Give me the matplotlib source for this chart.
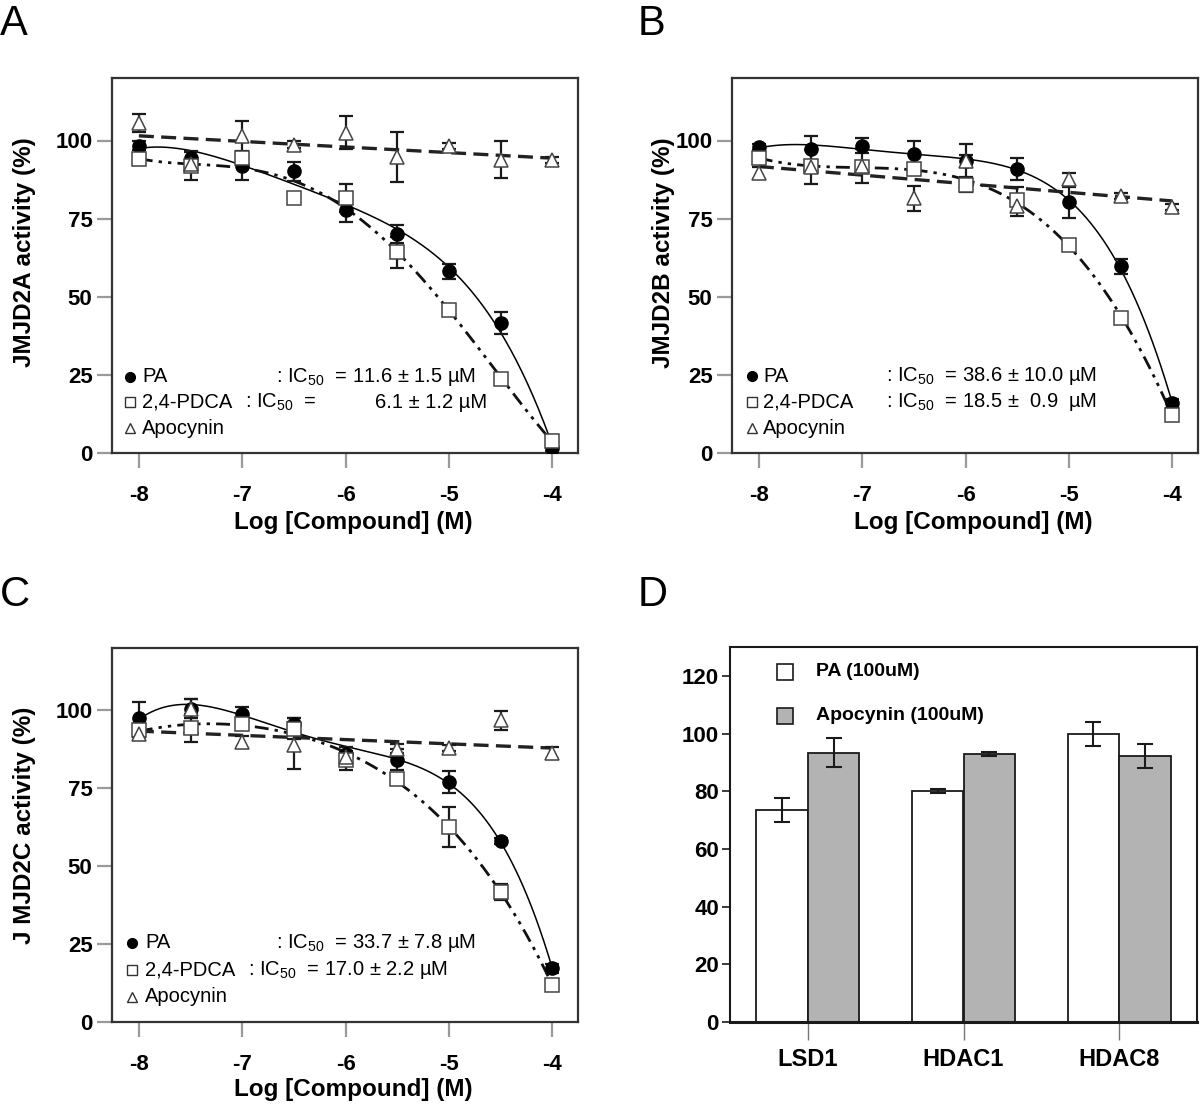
import numpy as np
import matplotlib
matplotlib.use("Agg")
import matplotlib.pyplot as plt
from matplotlib.lines import Line2D
from matplotlib.patches import Rectangle

plt.rcParams['font.family'] = ['Liberation Sans', 'DejaVu Sans']
plt.rcParams['mathtext.fontset'] = 'custom'
plt.rcParams['mathtext.rm'] = 'Liberation Sans'
plt.rcParams['mathtext.it'] = 'Liberation Sans:italic'
plt.rcParams['mathtext.bf'] = 'Liberation Sans:bold'

# ---------------- data ----------------
log_conc = [-8, -7.5, -7, -6.5, -6, -5.5, -5, -4.5, -4]
x_ticks = [-8, -7, -6, -5, -4]
y_ticks_curve = [0, 25, 50, 75, 100]

# Panel A (JMJD2A)
a_pa = [98.4, 94.4, 91.8, 90.2, 77.9, 70.1, 58.1, 41.6, 1.6]
a_pa_err = [1.5, 2.0, 4.5, 3.0, 4.0, 3.0, 2.5, 3.6, 1.0]
a_pdca = [94.1, 92.0, 94.4, 81.6, 81.6, 64.2, 45.8, 23.6, 3.9]
a_pdca_err = [2.0, 4.5, 2.0, 1.0, 4.5, 5.0, 1.5, 1.0, 2.0]
a_apo = [105.6, 92.5, 101.4, 98.7, 102.5, 94.8, 98.2, 93.9, 93.7]
a_apo_err = [2.8, 1.5, 4.7, 1.0, 5.3, 8.0, 1.0, 6.0, 1.0]

# Panel B (JMJD2B)
b_pa = [98.0, 97.3, 98.4, 95.8, 93.5, 90.9, 80.2, 59.7, 15.9]
b_pa_err = [1.0, 4.0, 2.5, 4.0, 2.0, 3.5, 5.0, 2.5, 1.5]
b_pdca = [94.4, 91.8, 91.6, 90.9, 85.9, 81.1, 66.7, 43.2, 12.2]
b_pdca_err = [2.0, 2.0, 2.0, 2.0, 2.5, 4.0, 1.5, 1.0, 2.0]
b_apo = [89.6, 91.6, 91.8, 81.6, 93.4, 78.9, 87.7, 82.2, 78.7]
b_apo_err = [2.0, 5.5, 5.5, 4.0, 5.5, 3.0, 2.0, 1.0, 1.0]

# Panel C (JMJD2C)
c_pa = [97.6, 100.5, 98.7, 95.5, 86.1, 84.2, 77.0, 58.0, 17.2]
c_pa_err = [5.0, 3.0, 2.5, 2.0, 2.0, 3.5, 3.5, 1.0, 1.5]
c_pdca = [93.6, 94.4, 95.7, 94.1, 84.0, 78.1, 62.6, 41.8, 11.9]
c_pdca_err = [2.0, 4.5, 2.0, 3.3, 3.0, 1.0, 6.5, 2.5, 1.5]
c_apo = [92.5, 100.5, 89.9, 88.8, 85.0, 87.7, 88.0, 96.8, 86.3]
c_apo_err = [2.0, 3.0, 2.0, 7.5, 2.0, 1.5, 1.0, 3.0, 2.0]

# Panel D
d_categories = ["LSD1", "HDAC1", "HDAC8"]
d_pa = [73.5, 80.1, 99.8]
d_pa_err = [4.0, 0.7, 4.2]
d_apo = [93.4, 93.0, 92.1]
d_apo_err = [4.9, 0.7, 4.2]
d_yticks = [0, 20, 40, 60, 80, 100, 120]

series_labels = ["PA", "2,4-PDCA", "Apocynin"]
fit_degree = [4, 4, 1]

W, H = 1200, 1105
fig = plt.figure(figsize=(W / 100, H / 100), dpi=100)


def fx(px):
    return px / W


def fy(py):
    return 1 - py / H


def make_ax(l, t, r, b):
    return fig.add_axes([fx(l), fy(b), fx(r - l), (b - t) / H])


def curve_panel(ax, pa, pa_err, pdca, pdca_err, apo, apo_err, ylabel, ylab_x, xlab_y):
    x = np.array(log_conc)
    xx = np.linspace(-8, -4, 300)
    series = [pa, pdca, apo]
    styles = [dict(color='black', lw=1.1, ls='-'),
              dict(color='#111111', lw=2.0, ls=(0, (5, 2.2, 1.2, 2.2, 1.2, 2.2))),
              dict(color='#222222', lw=2.4, ls=(0, (4.5, 2.2)))]
    for s, st, deg in zip(series, styles, fit_degree):
        coef = np.polyfit(x, s, deg)
        ax.plot(xx, np.polyval(coef, xx), zorder=2, **st)
    errs = [pa_err, pdca_err, apo_err]
    for s, e in zip(series, errs):
        ax.errorbar(x, s, yerr=e, fmt='none', ecolor='#1a1a1a', elinewidth=1.6,
                    capsize=5, capthick=1.6, zorder=3)
    ax.plot(x, pa, 'o', ms=9.5, mfc='black', mec='black', zorder=4, ls='none')
    ax.plot(x, pdca, 's', ms=9.5, mfc='white', mec='#444444', mew=1.1, zorder=5, ls='none')
    ax.plot(x, apo, '^', ms=10, mfc='white', mec='#444444', mew=1.1, zorder=6, ls='none')
    ax.set_xlim(-8.26, -3.75)
    ax.set_ylim(0, 120)
    ax.set_xticks(x_ticks)
    ax.set_xticklabels([str(v) for v in x_ticks])
    ax.set_yticks(y_ticks_curve)
    ax.tick_params(axis='both', direction='out', length=11, width=1.6, color='#9a9a9a',
                   labelsize=16)
    ax.tick_params(axis='x', pad=12)
    ax.tick_params(axis='y', pad=3)
    for lab in ax.get_xticklabels() + ax.get_yticklabels():
        lab.set_fontweight('bold')
    for sp in ax.spines.values():
        sp.set_color('#333333')
        sp.set_linewidth(1.6)
    ax.set_xlabel("Log [Compound] (M)", fontsize=17.5, fontweight='bold')
    ax.xaxis.set_label_coords(0.517, xlab_y)
    ax.set_ylabel(ylabel, fontsize=17.5, fontweight='bold')
    ax.yaxis.set_label_coords(ylab_x, 0.535)


def legend_block(mx, tx, ys, texts, ic_parts):
    markers = [dict(marker='o', ms=7, mfc='black', mec='black'),
               dict(marker='s', ms=7, mfc='white', mec='#333333', mew=1.0),
               dict(marker='^', ms=6.5, mfc='white', mec='#333333', mew=1.0)]
    for y, lab, mk in zip(ys, texts, markers):
        fig.add_artist(Line2D([fx(mx)], [fy(y)], transform=fig.transFigure, ls='none', **mk))
        fig.text(fx(tx), fy(y), lab, fontsize=14.5, va='center', ha='left')
    for (px, py, s, ha) in ic_parts:
        fig.text(fx(px), fy(py), s, fontsize=14.5, va='center', ha=ha)


# Panel A
axA = make_ax(112, 78, 578, 453)
curve_panel(axA, a_pa, a_pa_err, a_pdca, a_pdca_err, a_apo, a_apo_err,
            "JMJD2A activity (%)", -0.163, -0.155)
legend_block(130, 142, [377, 402, 428], series_labels,
             [(276, 377, r": IC$_{50}$  = 11.6 ± 1.5 µM", 'left'),
              (245, 402, r": IC$_{50}$  =", 'left'),
              (487, 402, "6.1 ± 1.2 µM", 'right')])

# Panel B
axB = make_ax(732, 78, 1198, 453)
curve_panel(axB, b_pa, b_pa_err, b_pdca, b_pdca_err, b_apo, b_apo_err,
            "JMJD2B activity (%)", -0.122, -0.155)
legend_block(752, 763, [376, 402, 428], series_labels,
             [(886, 376, r": IC$_{50}$  = 38.6 ± 10.0 µM", 'left'),
              (886, 402, r": IC$_{50}$  = 18.5 ±  0.9  µM", 'left')])

# Panel C
axC = make_ax(112, 648, 578, 1022)
curve_panel(axC, c_pa, c_pa_err, c_pdca, c_pdca_err, c_apo, c_apo_err,
            "J MJD2C activity (%)", -0.163, -0.15)
axC.yaxis.set_label_coords(-0.163, 0.527)
legend_block(132, 145, [943, 970, 997], series_labels,
             [(276, 943, r": IC$_{50}$  = 33.7 ± 7.8 µM", 'left'),
              (248, 970, r": IC$_{50}$  = 17.0 ± 2.2 µM", 'left')])

# Panel D
axD = make_ax(730, 647, 1197, 1022)
xd = np.arange(len(d_categories))
bw = 0.33
axD.bar(xd - bw / 2, d_pa, width=bw, color='white', edgecolor='#1a1a1a', linewidth=1.3, zorder=2)
axD.bar(xd + bw / 2, d_apo, width=bw, color='#b3b3b3', edgecolor='#1a1a1a', linewidth=1.3, zorder=2)
axD.errorbar(xd - bw / 2, d_pa, yerr=d_pa_err, fmt='none', ecolor='#1a1a1a', elinewidth=1.5,
             capsize=6, capthick=1.5, zorder=3)
axD.errorbar(xd + bw / 2, d_apo, yerr=d_apo_err, fmt='none', ecolor='#1a1a1a', elinewidth=1.5,
             capsize=6, capthick=1.5, zorder=3)
axD.set_xlim(-0.5, 2.5)
axD.set_ylim(0, 130)
axD.set_yticks(d_yticks)
axD.set_xticks(xd)
axD.set_xticklabels(d_categories)
axD.tick_params(axis='y', direction='out', length=6, width=1.2, color='#1a1a1a', labelsize=16, pad=2)
axD.tick_params(axis='x', direction='out', length=13, width=1.0, color='#777777', labelsize=17, pad=6)
for lab in axD.get_xticklabels() + axD.get_yticklabels():
    lab.set_fontweight('bold')
for sp in axD.spines.values():
    sp.set_color('#1a1a1a')
    sp.set_linewidth(1.5)
axD.spines['bottom'].set_linewidth(2.2)

d_leg = [("PA (100uM)", 'white', 672), ("Apocynin (100uM)", '#b3b3b3', 716)]
for lab, col, py in d_leg:
    fig.add_artist(Rectangle((fx(777), fy(py + 8)), fx(16), 16 / H, transform=fig.transFigure,
                             facecolor=col, edgecolor='#1a1a1a', linewidth=1.2))
    fig.text(fx(816), fy(py), lab, fontsize=14, fontweight='bold', va='center', ha='left')

# Panel letters
for letter, px, py in [("A", 0, 35), ("B", 638, 35), ("C", 0, 606), ("D", 638, 606)]:
    fig.text(fx(px), fy(py), letter, fontsize=30, va='baseline', ha='left')

fig.savefig("out.png", dpi=100)
